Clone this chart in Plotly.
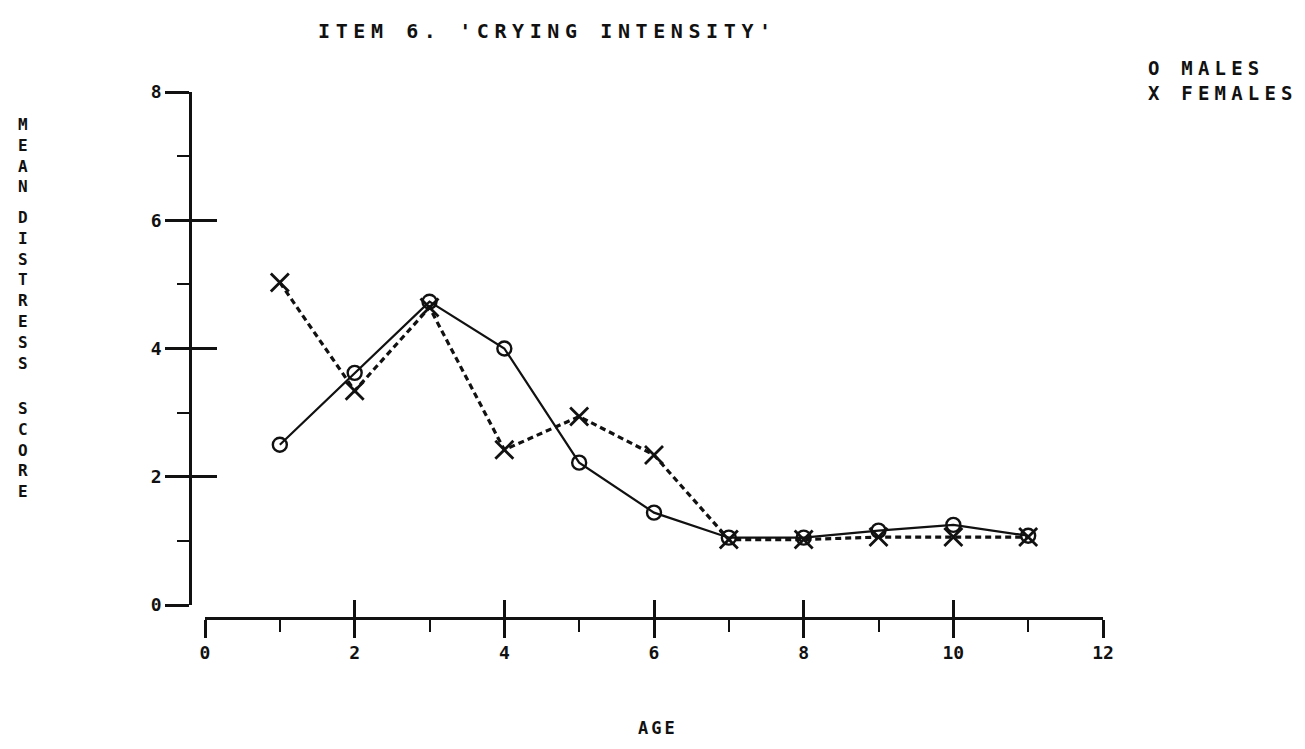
import plotly.graph_objects as go

ages = [1, 2, 3, 4, 5, 6, 7, 8, 9, 10, 11]
males = [2.5, 3.62, 4.73, 4.0, 2.22, 1.44, 1.05, 1.05, 1.16, 1.25, 1.08]
females = [5.03, 3.34, 4.64, 2.42, 2.94, 2.34, 1.02, 1.02, 1.06, 1.06, 1.06]
x_ticks = [0, 2, 4, 6, 8, 10, 12]
y_ticks = [0, 2, 4, 6, 8]

OFF = 8  # default page body margin
W, H = 1305 - 2 * OFF, 749 - 2 * OFF
L, R, T, B = 92, 92, 52, 123
pw, ph = W - L - R, H - T - B


def px(p):
    return (p - OFF - L) / pw


def py(p):
    return (H - B - (p - OFF)) / ph


def spaced(s, ls):
    return f'<span style="letter-spacing:{ls}px">{s}</span>'


FONT = "DejaVu Sans Mono"
INK = "#111111"

fig = go.Figure()
fig.add_trace(go.Scatter(
    x=ages, y=males, mode="lines+markers", name="MALES",
    line=dict(color=INK, width=2.2),
    marker=dict(symbol="circle-open", size=14, color=INK, line=dict(width=2.4, color=INK)),
    xaxis="x", yaxis="y", showlegend=False))
fig.add_trace(go.Scatter(
    x=ages, y=females, mode="lines+markers", name="FEMALES",
    line=dict(color=INK, width=3.2, dash="6px,4px"),
    marker=dict(symbol="x-thin-open", size=18, color=INK, line=dict(width=2.8, color=INK)),
    xaxis="x", yaxis="y", showlegend=False))

xdom = [px(205), px(1103)]
ydom = [py(605), py(92)]
common_x = dict(domain=xdom, range=[0, 12], tickvals=x_ticks, showgrid=False,
                zeroline=False, showline=True, linecolor=INK, linewidth=2.5,
                anchor="free", position=py(618), tickcolor=INK, tickwidth=2.5)
common_y = dict(domain=ydom, range=[0, 8], tickvals=y_ticks, showgrid=False,
                zeroline=False, showline=True, linecolor=INK, linewidth=2.5,
                anchor="free", position=px(190), tickcolor=INK, tickwidth=2.5)

fig.update_layout(
    width=W, height=H,
    margin=dict(l=L, r=R, t=T, b=B, autoexpand=False),
    paper_bgcolor="white", plot_bgcolor="white",
    font=dict(family=FONT, color=INK),
    xaxis=dict(**common_x, ticks="outside", ticklen=18,
               tickfont=dict(family=FONT, size=18, weight="bold", color=INK),
               minor=dict(ticks="outside", ticklen=12, dtick=1, tick0=1,
                          tickcolor=INK, tickwidth=2)),
    xaxis2=dict(**common_x, overlaying="x", ticks="inside", ticklen=17,
                showticklabels=False),
    yaxis=dict(**common_y, ticks="outside", ticklen=24,
               tickfont=dict(family=FONT, size=18, weight="bold", color=INK),
               minor=dict(ticks="outside", ticklen=12, dtick=1, tick0=1,
                          tickcolor=INK, tickwidth=2)),
    yaxis2=dict(**common_y, overlaying="y", ticks="inside", ticklen=25,
                showticklabels=False),
)

fig.add_trace(go.Scatter(x=[None], y=[None], xaxis="x2", yaxis="y2",
                         showlegend=False, hoverinfo="skip"))

# title
fig.add_annotation(text=spaced("ITEM 6. 'CRYING INTENSITY'", 5.6), x=px(547), y=py(31),
                   xref="paper", yref="paper", xanchor="center", yanchor="middle",
                   showarrow=False, font=dict(family=FONT, size=20, weight="bold", color=INK))

# legend
for txt, cy in [("O MALES", 68), ("X FEMALES", 93)]:
    fig.add_annotation(text=spaced(txt, 5.2), x=px(1146), y=py(cy), xref="paper", yref="paper",
                       xanchor="left", yanchor="middle", showarrow=False,
                       font=dict(family=FONT, size=19, weight="bold", color=INK))

fig.add_annotation(text=spaced("AGE", 3), x=px(658), y=py(728), xref="paper", yref="paper",
                   xanchor="center", yanchor="middle", showarrow=False,
                   font=dict(family=FONT, size=17, weight="bold", color=INK))

for word, cy in [("MEAN", 155), ("DISTRESS", 290), ("SCORE", 450)]:
    fig.add_annotation(text="<br>".join(word), x=px(23), y=py(cy), xref="paper",
                       yref="paper", xanchor="center", yanchor="middle", showarrow=False,
                       font=dict(family=FONT, size=16, weight="bold", color=INK))

fig.write_html("out.html")
